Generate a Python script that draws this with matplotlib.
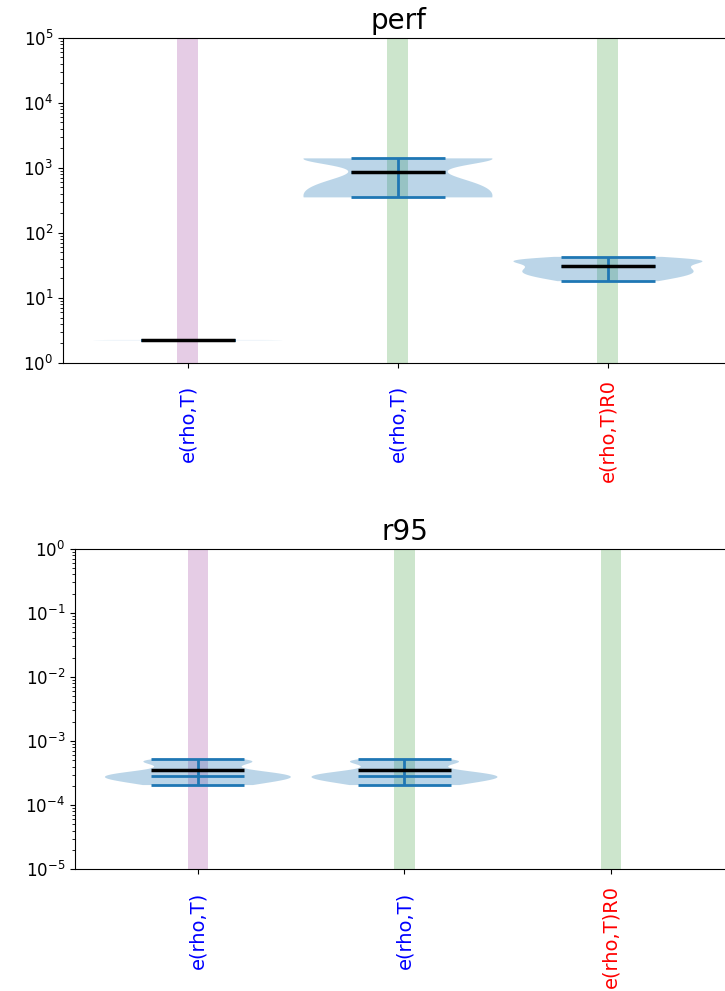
import numpy as np
import matplotlib.pyplot as plt

plt.rcParams['font.size'] = 12

labels = ["e(rho,T)", "e(rho,T)", "e(rho,T)R0"]
label_colors = ["blue", "blue", "red"]
label_pads = [12.4, 12.4, 8.0]
span_colors = ["purple", "green", "green"]
positions = [1, 2, 3]

# perf samples per config
perf_a = [2.24, 2.25, 2.26]
perf_b = [351, 353, 357, 362, 370, 380, 394, 1350, 1364, 1375, 1384, 1390, 1394, 1396]
perf_c = [18.1, 19.5, 21, 22, 23.5, 24.5, 26, 27, 28.4, 30,
          31.4, 34, 35.5, 36.8, 37.2, 37.6, 38.2, 39.5, 41, 42.8]

# r95 samples (x 1e-4), last config has no data
r95_a = [2.06, 2.3, 2.5, 2.62, 2.7, 2.76, 2.8, 2.84, 2.86, 2.87,
         2.89, 3.2, 3.8, 4.3, 4.55, 4.75, 4.9, 5.02, 5.12, 5.19]
r95_b = [2.06, 2.3, 2.5, 2.62, 2.7, 2.76, 2.8, 2.84, 2.86, 2.87,
         2.89, 3.2, 3.8, 4.3, 4.55, 4.75, 4.9, 5.02, 5.12, 5.19]


def draw(ax, data, pos, title, ylim):
    for p, c in zip(positions, span_colors):
        ax.axvspan(p - 0.05, p + 0.05, color=c, alpha=0.2, lw=0)
    vp = ax.violinplot(data, positions=pos, widths=0.9,
                       showmeans=True, showmedians=True)
    vp['cmeans'].set_color('black')
    vp['cmeans'].set_linewidth(2.5)
    vp['cmeans'].set_zorder(3)
    for k in ['cmaxes', 'cmins', 'cbars', 'cmedians']:
        vp[k].set_linewidth(2)
    ax.set_yscale('log')
    ax.set_ylim(*ylim)
    ax.set_xlim(0.405, 3.595)
    ax.set_xticks(positions)
    ax.set_xticklabels(labels, rotation=90, fontsize=14)
    for tick, c, pad in zip(ax.xaxis.get_major_ticks(), label_colors, label_pads):
        tick.label1.set_color(c)
        tick.set_pad(pad)
    ax.set_title(title, fontsize=20)


fig = plt.figure(figsize=(7.25, 9.91), dpi=100)
ax1 = fig.add_axes([0.0869, 0.6337, 0.924, 0.3283])
ax2 = fig.add_axes([0.1034, 0.1228, 0.909, 0.3235])

draw(ax1, [perf_a, perf_b, perf_c], [1, 2, 3], 'perf', (1, 1e5))
draw(ax2, [np.array(r95_a) * 1e-4, np.array(r95_b) * 1e-4], [1, 2], 'r95', (1e-5, 1))

fig.savefig('out.png', dpi=100)
